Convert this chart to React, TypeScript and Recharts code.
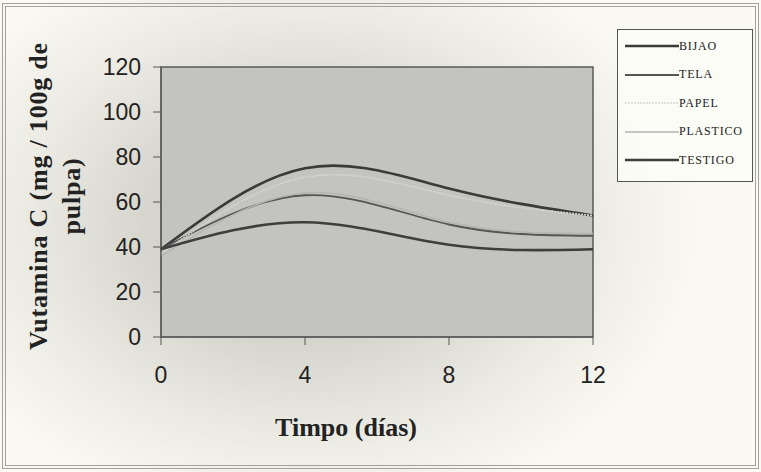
import { LineChart, Line, XAxis, YAxis, ReferenceArea } from "recharts"

// días de almacenamiento
const days = [0, 4, 8, 12]
const bijao = [39, 75, 66, 54]
const tela = [39, 63, 50, 45]
const papel = [37, 71, 63, 54]
const plastico = [36, 64, 51, 46]
const testigo = [39, 51, 41, 39]

const xTicks = [0, 4, 8, 12]
const yTicks = [0, 20, 40, 60, 80, 100, 120]

const data = days.map((d, i) => ({
  day: d,
  BIJAO: bijao[i],
  TELA: tela[i],
  PAPEL: papel[i],
  PLASTICO: plastico[i],
  TESTIGO: testigo[i],
}))

const series = [
  { key: "BIJAO", label: "BIJAO", color: "#3a3a3a", width: 2.6, dash: undefined },
  { key: "TELA", label: "TELA", color: "#555555", width: 1.8, dash: undefined },
  { key: "PAPEL", label: "PAPEL", color: "#d6d6d2", width: 1.6, dash: "2 1" },
  { key: "PLASTICO", label: "PLASTICO", color: "#b4b4b0", width: 1.4, dash: undefined },
  { key: "TESTIGO", label: "TESTIGO", color: "#3e3e3e", width: 2.6, dash: undefined },
]

const serif = "'Liberation Serif', 'Times New Roman', serif"
const sans = "'Liberation Sans', Arial, sans-serif"

const LegendBox = () => (
  <div
    style={{
      position: "absolute",
      left: 617,
      top: 29,
      width: 136,
      height: 153,
      border: "1.5px solid #555",
      background: "rgba(252,252,246,0.92)",
      boxSizing: "border-box",
      paddingTop: 2,
    }}
  >
    {series.map((s) => (
      <div key={s.key} style={{ display: "flex", alignItems: "center", height: 28.5 }}>
        <svg width={56} height={6} style={{ marginLeft: 7 }}>
          <line
            x1={0}
            y1={3}
            x2={54}
            y2={3}
            stroke={s.color}
            strokeWidth={s.width}
            strokeDasharray={s.dash}
          />
        </svg>
        <span
          style={{
            fontFamily: serif,
            fontSize: 12,
            color: "#222",
            letterSpacing: 0.8,
            marginLeft: -2,
          }}
        >
          {s.label}
        </span>
      </div>
    ))}
  </div>
)

const YTitle = () => (
  <g fontFamily={serif} fontWeight="bold" fontSize={26} fill="#222" letterSpacing={0.8}>
    <text transform="translate(47,196) rotate(-90)" textAnchor="middle">
      Vutamina C (mg / 100g de
    </text>
    <text transform="translate(80,196) rotate(-90)" textAnchor="middle">
      pulpa)
    </text>
  </g>
)

const XTitle = () => (
  <text x={346} y={436} textAnchor="middle" fontFamily={serif} fontWeight="bold" fontSize={26} fill="#222">
    Timpo (días)
  </text>
)

export default function App() {
  return (
    <div
      style={{
        position: "absolute",
        left: 0,
        top: 0,
        width: 761,
        height: 472,
        background:
          "radial-gradient(ellipse 60% 72% at 40% 48%, #c6c6bf 0%, #d6d6ce 35%, #ebebe3 62%, #fafaf2 88%)",
      }}
    >
      <div
        style={{
          position: "absolute",
          left: 2,
          top: 3,
          width: 757,
          height: 466,
          border: "4px double #a2a29c",
          boxSizing: "border-box",
        }}
      />
      <LineChart
        width={761}
        height={472}
        data={data}
        margin={{ top: 67, right: 168, bottom: 0, left: 0 }}
        style={{ position: "absolute", left: 0, top: 0 }}
      >
        <ReferenceArea
          x1={0}
          x2={12}
          y1={0}
          y2={120}
          fill="#c3c3bf"
          fillOpacity={1}
          stroke="#5a5a5a"
          strokeWidth={1.5}
          ifOverflow="extendDomain"
        />
        <XAxis
          dataKey="day"
          type="number"
          domain={[0, 12]}
          ticks={xTicks}
          height={135}
          tickSize={8}
          tickMargin={22}
          stroke="#555"
          tick={{ fill: "#222", fontSize: 23, fontFamily: sans }}
          label={{ content: () => <XTitle /> }}
        />
        <YAxis
          type="number"
          domain={[0, 120]}
          ticks={yTicks}
          width={161}
          tickSize={8}
          tickMargin={12}
          stroke="#555"
          tick={{ fill: "#222", fontSize: 23, fontFamily: sans }}
          label={{ content: () => <YTitle /> }}
        />
        {series.map((s) => (
          <Line
            key={s.key}
            type="natural"
            dataKey={s.key}
            name={s.label}
            stroke={s.color}
            strokeWidth={s.width}
            strokeDasharray={s.dash}
            dot={false}
            activeDot={false}
            isAnimationActive={false}
          />
        ))}
      </LineChart>
      <LegendBox />
    </div>
  )
}
